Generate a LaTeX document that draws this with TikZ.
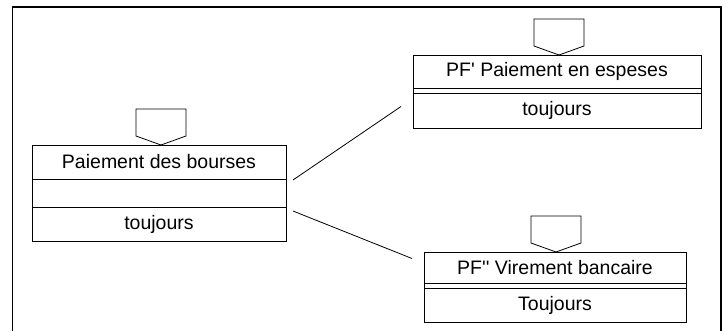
\documentclass[tikz,border=0pt]{standalone}
\usepackage{fontspec}
\setmainfont{Liberation Sans}
\usepackage{tikz}
\usetikzlibrary{positioning}

\begin{document}
\begin{tikzpicture}[x=1pt, y=1pt, line width=0.8pt,
  every node/.style={font=\fontsize{19.5}{22}\selectfont},
  cell/.style={draw, inner sep=0pt, outer sep=0pt, anchor=north},
  entry/.pic={\draw (-25,9) -- (-25,36) -- (25,36) -- (25,9) -- (0,0) -- cycle;}]
\useasboundingbox (0,0) rectangle (728,330);
% frame
\draw[line width=1.6pt] (12.5,-5) -- (12.5,323) -- (721,323) -- (721,-5);
% Paiement des bourses
\node[cell, minimum width=254, minimum height=34] (pb) at (159,185) {Paiement des bourses};
\node[cell, minimum width=254, minimum height=28, below=0pt of pb] (pbm) {};
\node[cell, minimum width=254, minimum height=34, below=0pt of pbm] (pbc) {toujours};
\pic at ([xshift=2]pb.north) {entry};
% PF' Paiement en espeses
\node[cell, minimum width=288, minimum height=33] (pe) at (557,275) {PF\textquotesingle{} Paiement en espeses};
\node[cell, minimum width=288, minimum height=5, below=0pt of pe] (pem) {};
\node[cell, minimum width=288, minimum height=35, below=0pt of pem] (pec) {toujours};
\pic at ([xshift=2]pe.north) {entry};
% PF'' Virement bancaire
\node[cell, minimum width=262, minimum height=31] (vb) at (555,78) {PF\textquotesingle\textquotesingle{} Virement bancaire};
\node[cell, minimum width=262, minimum height=5, below=0pt of vb] (vbm) {};
\node[cell, minimum width=262, minimum height=34, below=0pt of vbm] (vbc) {Toujours};
\pic at ([xshift=1]vb.north) {entry};
% connectors
\coordinate (pb-o1) at ([shift={(7,-1)}]pbm.north east);
\coordinate (pb-o2) at ([shift={(7,-4)}]pbc.north east);
\coordinate (pe-i) at ([shift={(-12,4)}]pec.west);
\coordinate (vb-i) at ([shift={(-12,9)}]vb.west);
\draw (pb-o1) -- (pe-i);
\draw (pb-o2) -- (vb-i);
\end{tikzpicture}
\end{document}
